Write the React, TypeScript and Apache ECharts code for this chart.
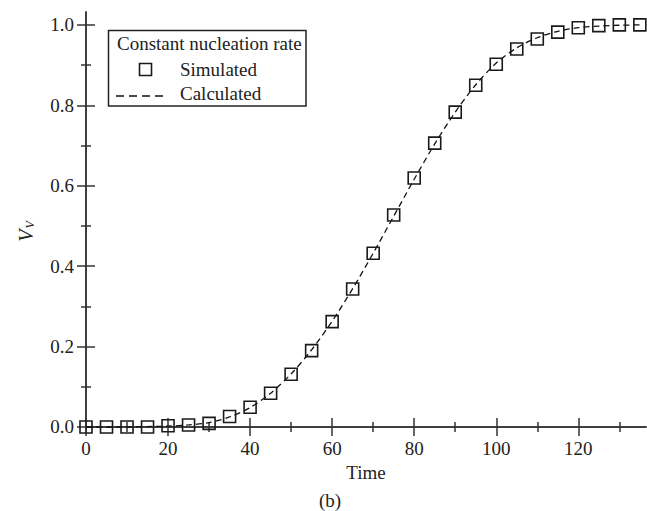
import React, { useEffect, useRef } from "react";
import * as echarts from "echarts";

const times = [0, 5, 10, 15, 20, 25, 30, 35, 40, 45, 50, 55, 60, 65, 70, 75, 80, 85, 90, 95, 100, 105, 110, 115, 120, 125, 130, 135];
const simulated = [0, 0, 0, 0, 0.003, 0.005, 0.009, 0.026, 0.049, 0.084, 0.131, 0.19, 0.262, 0.343, 0.432, 0.527, 0.619, 0.706, 0.783, 0.85, 0.902, 0.94, 0.965, 0.982, 0.993, 0.998, 1.0, 1.0];
const calculated = [0, 0, 0, 0.001, 0.002, 0.005, 0.011, 0.025, 0.048, 0.084, 0.132, 0.192, 0.263, 0.344, 0.432, 0.524, 0.616, 0.704, 0.783, 0.851, 0.905, 0.943, 0.968, 0.984, 0.993, 0.997, 0.999, 1.0];
const xMajor = [0, 20, 40, 60, 80, 100, 120];
const xMinor = [10, 30, 50, 70, 90, 110, 130];
const yMajor = [0, 0.2, 0.4, 0.6, 0.8, 1.0];
const yMinor = [0.1, 0.3, 0.5, 0.7, 0.9];

const FONT = "Liberation Serif";
const TEXT = "#222";
const LINE = "#333";

export default function App() {
  const ref = useRef<HTMLDivElement>(null);
  useEffect(() => {
    if (!ref.current) return;
    const chart = echarts.init(ref.current, null, { renderer: "svg" });
    const xMin = 0, xMax = 136.5, yMin = -0.01, yMax = 1.032;
    const xAx = (pos: string, ticks: number[], len: number, main: boolean) => ({
      type: "value",
      position: pos,
      min: xMin,
      max: xMax,
      splitLine: { show: false },
      axisLine: { show: main, lineStyle: { color: LINE, width: 1.5 } },
      axisTick: { show: true, inside: true, length: len, customValues: ticks, lineStyle: { color: LINE, width: 1.5 } },
      axisLabel: main && pos === "bottom"
        ? { show: true, customValues: xMajor, margin: 8, color: TEXT, fontFamily: FONT, fontSize: 19, formatter: (v: number) => String(v) }
        : { show: false },
      name: main && pos === "bottom" ? "Time" : "",
      nameLocation: "middle",
      nameGap: 32,
      nameTextStyle: { color: TEXT, fontFamily: FONT, fontSize: 19 },
    });
    const yAx = (pos: string, ticks: number[], len: number, main: boolean) => {
      const isMain = main && pos === "left";
      return {
        type: "value",
        position: pos,
        min: yMin,
        max: yMax,
        splitLine: { show: false },
        axisLine: { show: main, lineStyle: { color: LINE, width: 1.5 } },
        axisTick: { show: true, inside: true, length: len, customValues: ticks, lineStyle: { color: LINE, width: 1.5 } },
        axisLabel: isMain
          ? { show: true, customValues: yMajor, margin: 12, color: TEXT, fontFamily: FONT, fontSize: 19, formatter: (v: number) => v.toFixed(1) }
          : { show: false },
        name: isMain ? "{v|V}{s|V}" : "",
        nameLocation: "middle",
        nameRotate: 90,
        nameGap: 50,
        nameTextStyle: {
          color: TEXT,
          padding: [0, 20, 0, 0],
          rich: {
            v: { fontFamily: FONT, fontStyle: "italic", fontSize: 20, color: TEXT },
            s: { fontFamily: FONT, fontStyle: "italic", fontSize: 12, color: TEXT, verticalAlign: "bottom", padding: [8, 0, 0, 1] },
          },
        },
      };
    };
    chart.setOption({
      animation: false,
      backgroundColor: "#fff",
      grid: { left: 86, right: 1, top: 12, bottom: 80, containLabel: false },
      xAxis: [
        xAx("bottom", xMajor, 9, true),
        xAx("bottom", xMinor, 5, false),
        xAx("top", xMajor, 9, true),
        xAx("top", xMinor, 5, false),
      ],
      yAxis: [
        yAx("left", yMajor, 9, true),
        yAx("left", yMinor, 5, false),
        yAx("right", yMajor, 9, true),
        yAx("right", yMinor, 5, false),
      ],
      series: [
        {
          name: "Calculated",
          type: "line",
          xAxisIndex: 0,
          yAxisIndex: 0,
          data: times.map((t, i) => [t, calculated[i]]),
          symbol: "none",
          smooth: 0.3,
          lineStyle: { color: "#111", width: 1.3, type: [6, 4] },
          z: 3,
        },
        {
          name: "Simulated",
          type: "scatter",
          xAxisIndex: 0,
          yAxisIndex: 0,
          data: times.map((t, i) => [t, simulated[i]]),
          symbol: "rect",
          symbolSize: 12,
          itemStyle: { color: "rgba(0,0,0,0)", borderColor: "#1a1a1a", borderWidth: 1.6, opacity: 1 },
          z: 4,
        },
      ],
      graphic: [
        {
          type: "rect",
          shape: { x: 108.5, y: 30.5, width: 197.5, height: 75.5 },
          style: { fill: "#fff", stroke: "#222", lineWidth: 1.5 },
          z: 10,
        },
        {
          type: "text",
          x: 117,
          y: 43,
          style: { text: "Constant nucleation rate", fontFamily: FONT, fontSize: 19, fill: TEXT, verticalAlign: "middle", align: "left" },
          z: 11,
        },
        {
          type: "rect",
          shape: { x: 139.5, y: 63.5, width: 12, height: 12 },
          style: { fill: "none", stroke: "#1a1a1a", lineWidth: 1.6 },
          z: 11,
        },
        {
          type: "text",
          x: 180,
          y: 69,
          style: { text: "Simulated", fontFamily: FONT, fontSize: 19, fill: TEXT, verticalAlign: "middle", align: "left" },
          z: 11,
        },
        {
          type: "line",
          shape: { x1: 116, y1: 96, x2: 168, y2: 96 },
          style: { stroke: "#111", lineWidth: 1.3, lineDash: [8, 5] },
          z: 11,
        },
        {
          type: "text",
          x: 180,
          y: 93,
          style: { text: "Calculated", fontFamily: FONT, fontSize: 19, fill: TEXT, verticalAlign: "middle", align: "left" },
          z: 11,
        },
        {
          type: "text",
          x: 330,
          y: 500,
          style: { text: "(b)", fontFamily: FONT, fontSize: 19, fill: TEXT, align: "center", verticalAlign: "middle" },
          z: 11,
        },
      ],
    });
    return () => chart.dispose();
  }, []);
  return <div ref={ref} style={{ position: "fixed", left: 0, top: 0, width: 647, height: 511 }} />;
}
